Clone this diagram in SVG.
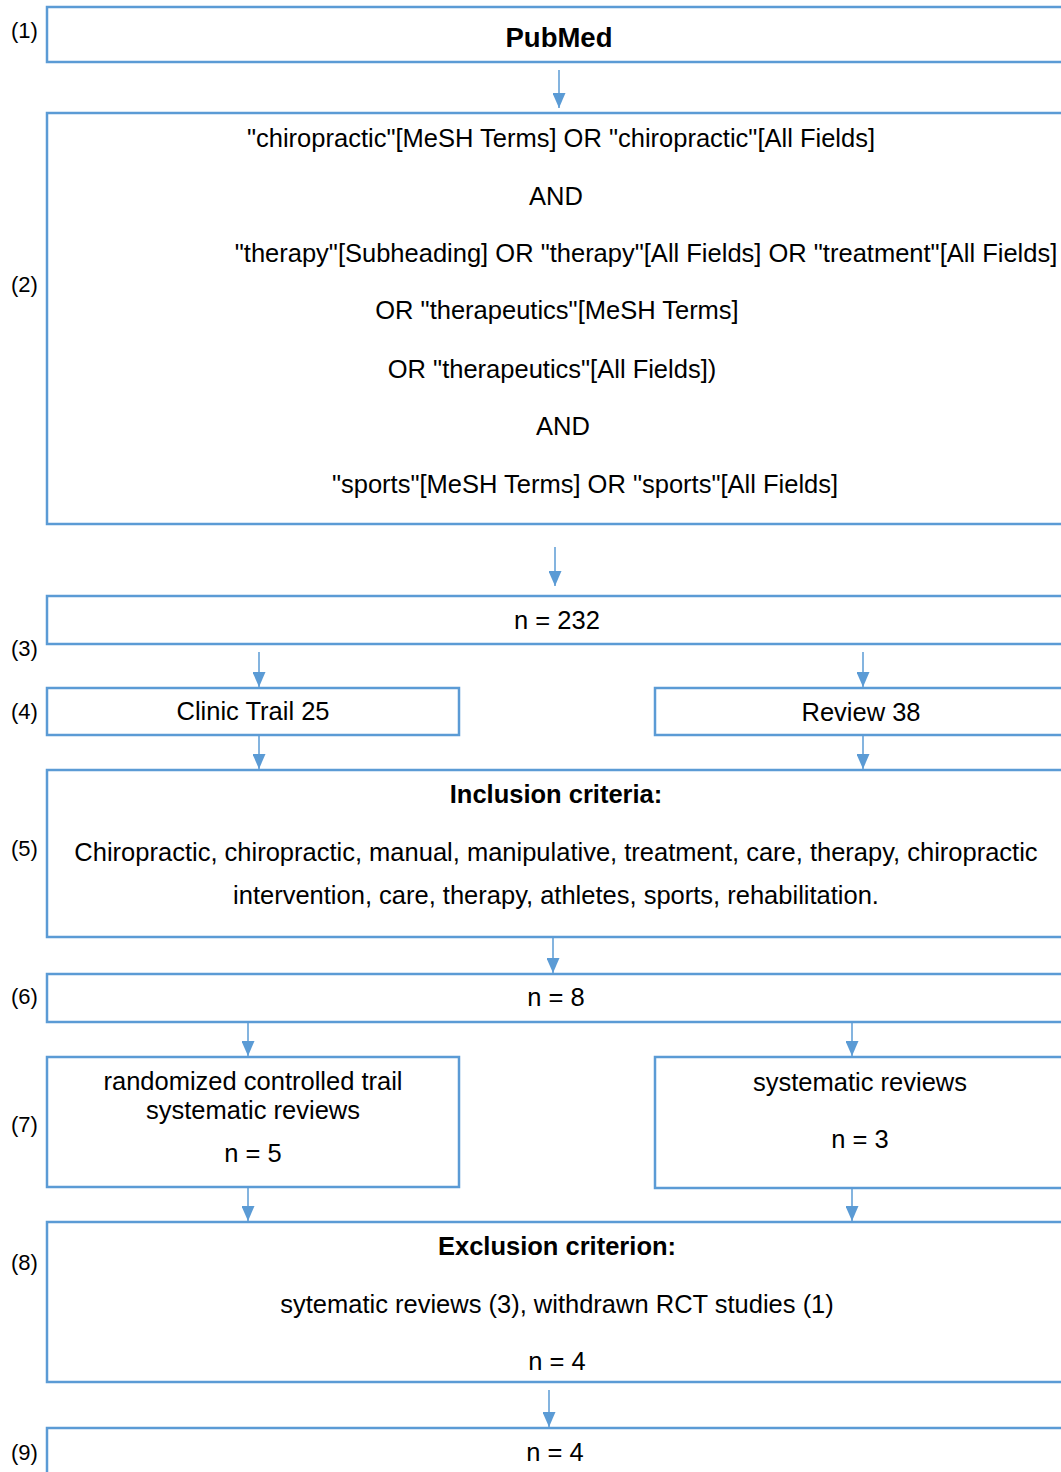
<svg xmlns="http://www.w3.org/2000/svg" width="1061" height="1472" viewBox="0 0 1061 1472">
<style>
.box{fill:#ffffff;stroke:#5b9bd5;stroke-width:2.5}
.t{font-family:"Liberation Sans",Arial,sans-serif;font-size:25.5px;fill:#000;text-anchor:middle}
.b{font-weight:bold}
.lbl{font-family:"Liberation Sans",Arial,sans-serif;font-size:22px;fill:#000}
.c{stroke:#5b9bd5;stroke-width:1.5;fill:none;marker-end:url(#ah)}
</style>
<defs>
<marker id="ah" markerUnits="userSpaceOnUse" markerWidth="15" markerHeight="13" viewBox="0 0 15 13" refX="15" refY="6.5" orient="auto">
<path d="M0,0 L15,6.5 L0,13 Z" fill="#5b9bd5"/>
</marker>
</defs>
<rect width="1061" height="1472" fill="#ffffff"/>
<g id="labels">
<text class="lbl" x="11" y="38">(1)</text>
<text class="lbl" x="11" y="292">(2)</text>
<text class="lbl" x="11" y="656">(3)</text>
<text class="lbl" x="11" y="719">(4)</text>
<text class="lbl" x="11" y="856">(5)</text>
<text class="lbl" x="11" y="1004">(6)</text>
<text class="lbl" x="11" y="1132">(7)</text>
<text class="lbl" x="11" y="1270">(8)</text>
<text class="lbl" x="11" y="1460">(9)</text>
</g>
<g id="connectors">
<line class="c" x1="559" y1="70" x2="559" y2="108"/>
<line class="c" x1="555" y1="547" x2="555" y2="586"/>
<line class="c" x1="259" y1="652" x2="259" y2="687"/>
<line class="c" x1="863" y1="652" x2="863" y2="687"/>
<line class="c" x1="259" y1="736" x2="259" y2="769"/>
<line class="c" x1="863" y1="736" x2="863" y2="769"/>
<line class="c" x1="553" y1="938" x2="553" y2="973"/>
<line class="c" x1="248" y1="1023" x2="248" y2="1056"/>
<line class="c" x1="852" y1="1023" x2="852" y2="1056"/>
<line class="c" x1="248" y1="1188" x2="248" y2="1221"/>
<line class="c" x1="852" y1="1189" x2="852" y2="1221"/>
<line class="c" x1="549" y1="1390" x2="549" y2="1427"/>
</g>
<g id="n1">
<rect class="box" x="47" y="7" width="1030" height="55"/>
<text class="t b" x="559" y="47" style="font-size:27.5px">PubMed</text>
</g>
<g id="n2">
<rect class="box" x="47" y="113" width="1030" height="411"/>
<text class="t" x="561" y="147">"chiropractic"[MeSH Terms] OR "chiropractic"[All Fields]</text>
<text class="t" x="556" y="205">AND</text>
<text class="t" x="646" y="262">"therapy"[Subheading] OR "therapy"[All Fields] OR "treatment"[All Fields]</text>
<text class="t" x="557" y="319">OR "therapeutics"[MeSH Terms]</text>
<text class="t" x="552" y="378">OR "therapeutics"[All Fields])</text>
<text class="t" x="563" y="435">AND</text>
<text class="t" x="585" y="493">"sports"[MeSH Terms] OR "sports"[All Fields]</text>
</g>
<g id="n3">
<rect class="box" x="47" y="596" width="1030" height="48"/>
<text class="t" x="557" y="629">n = 232</text>
</g>
<g id="n4a">
<rect class="box" x="47" y="688" width="412" height="47"/>
<text class="t" x="253" y="720">Clinic Trail 25</text>
</g>
<g id="n4b">
<rect class="box" x="655" y="688" width="422" height="47"/>
<text class="t" x="861" y="721">Review 38</text>
</g>
<g id="n5">
<rect class="box" x="47" y="770" width="1030" height="167"/>
<text class="t b" x="556" y="803">Inclusion criteria:</text>
<text class="t" x="556" y="861">Chiropractic, chiropractic, manual, manipulative, treatment, care, therapy, chiropractic</text>
<text class="t" x="556" y="904">intervention, care, therapy, athletes, sports, rehabilitation.</text>
</g>
<g id="n6">
<rect class="box" x="47" y="974" width="1030" height="48"/>
<text class="t" x="556" y="1006">n = 8</text>
</g>
<g id="n7a">
<rect class="box" x="47" y="1057" width="412" height="130"/>
<text class="t" x="253" y="1090">randomized controlled trail</text>
<text class="t" x="253" y="1119">systematic reviews</text>
<text class="t" x="253" y="1162">n = 5</text>
</g>
<g id="n7b">
<rect class="box" x="655" y="1057" width="422" height="131"/>
<text class="t" x="860" y="1091">systematic reviews</text>
<text class="t" x="860" y="1148">n = 3</text>
</g>
<g id="n8">
<rect class="box" x="47" y="1222" width="1030" height="160"/>
<text class="t b" x="557" y="1255">Exclusion criterion:</text>
<text class="t" x="557" y="1313">sytematic reviews (3), withdrawn RCT studies (1)</text>
<text class="t" x="557" y="1370">n = 4</text>
</g>
<g id="n9">
<rect class="box" x="47" y="1428" width="1030" height="60"/>
<text class="t" x="555" y="1461">n = 4</text>
</g>
</svg>
